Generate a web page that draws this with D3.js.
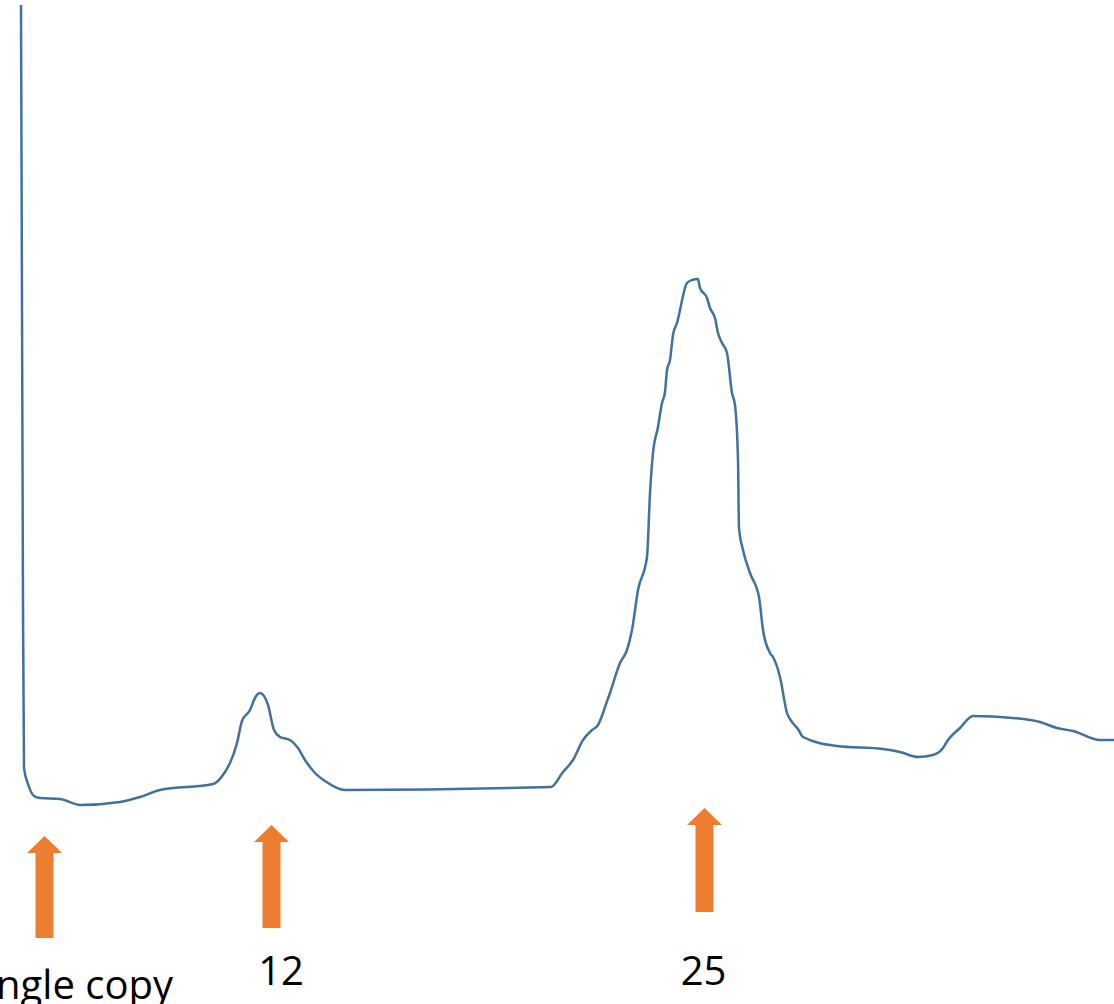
<!DOCTYPE html>
<html><head><meta charset="utf-8">
<script src="https://cdn.jsdelivr.net/npm/d3@7"></script>
<style>html,body{margin:0;padding:0;background:#fff;overflow:hidden}</style>
</head><body>
<svg id="c" width="1114" height="1004"></svg>
<script>
// Trace position (arbitrary migration units) and signal intensity
const tracePos = [21,22,23,24,28,34,40,60,80,120,140,160,213,225,230,237,242,250,255,260,268,274,280,290,298,305,315,325,345,551,563,573,583,592,598,603,605,610,620,627,632,638,647,650,653,658,662,665,667,670,673,677,687,692,698,700,707,710,715,718,722,727,732,735,738,739,743,750,759,763,770,773,780,787,792,798,803,837,883,900,918,933,943,948,960,973,1013,1040,1057,1073,1100,1114];
const traceSig = [999,700,400,236,220,208,206,205,199,202,207,214,220,232,241,261,283,294,306,311,299,274,267,264,256,244,231,223,214,217,232,244,264,274,279,291,297,311,341,354,374,414,447,511,551,577,601,612,634,644,669,681,721,724,725,716,706,696,686,671,661,651,611,599,544,476,454,431,407,374,351,347,327,291,282,275,267,258,255,252,247,249,256,264,276,288,286,282,276,273,264,264];

// Annotation arrows: position on the trace axis and labels
const arrowPos = [44.5, 271.5, 704.5];
const arrowTip = [168, 179, 196];     // signal level at arrow tip
const arrowBase = [66, 76, 92];       // signal level at arrow bottom
const arrowLabels = ["Single copy", "12", "25"];
const labelAnchor = ["end", "middle", "middle"];
const labelPos = [173, 281, 703.5];
const labelSig = [5, 19, 19];

const W = 1114, H = 1004;
const x = d3.scaleLinear().domain([0, 1114]).range([0, W]);
const y = d3.scaleLinear().domain([0, 1004]).range([H, 0]);
const svg = d3.select("#c");

const pts = tracePos.map((p, i) => [p, traceSig[i]]);
svg.append("path")
  .datum(pts)
  .attr("fill", "none")
  .attr("stroke", "#41719C")
  .attr("stroke-width", 2.5)
  .attr("stroke-linejoin", "round")
  .attr("d", d3.line().x(d => x(d[0])).y(d => y(d[1])).curve(d3.curveMonotoneX));

const orange = "#ED7D31";
const headHalf = 17.5, shaftHalf = 9, headLen = 17;
arrowPos.forEach((p, i) => {
  const cx = x(p), ty = y(arrowTip[i]), by = y(arrowBase[i]);
  const hb = ty + headLen;
  const path = `M${cx},${ty} L${cx + headHalf},${hb} L${cx + shaftHalf},${hb} L${cx + shaftHalf},${by} L${cx - shaftHalf},${by} L${cx - shaftHalf},${hb} L${cx - headHalf},${hb} Z`;
  svg.append("path").attr("d", path).attr("fill", orange);
});

svg.selectAll("text.lbl").data(arrowLabels).enter().append("text")
  .attr("class", "lbl")
  .attr("x", (d, i) => x(labelPos[i]))
  .attr("y", (d, i) => y(labelSig[i]))
  .attr("text-anchor", (d, i) => labelAnchor[i])
  .attr("font-family", "'Open Sans', 'Liberation Sans', sans-serif")
  .attr("font-size", 40)
  .attr("fill", "#000")
  .text(d => d);
</script>
</body></html>
